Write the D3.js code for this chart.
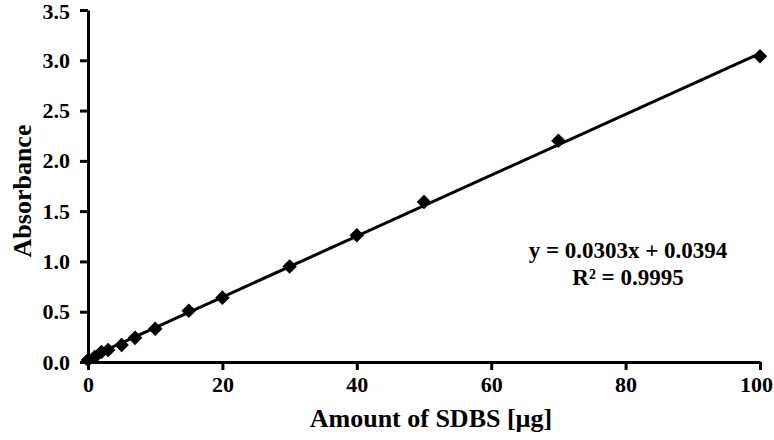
<!DOCTYPE html>
<html lang="en">
<head>
    <meta charset="UTF-8">
    <title>Absorbance vs SDBS</title>
    <style>
        body { margin: 0; background: #fff; }
        text { font-family: "Liberation Serif", "Times New Roman", serif; font-weight: bold; fill: #000; }
        .axis path, .axis line { stroke: #000; stroke-width: 3; }
        .axis text { font-size: 22px; }
    </style>
</head>
<body>
    <script src="https://d3js.org/d3.v7.min.js"></script>
    <script>
        const amounts = [0, 1, 2, 3, 5, 7, 10, 15, 20, 30, 40, 50, 70, 100];
        const absorbance = [0.02, 0.05, 0.10, 0.12, 0.17, 0.24, 0.33, 0.51, 0.64, 0.95, 1.26, 1.59, 2.20, 3.04];
        const xTicks = [0, 20, 40, 60, 80, 100];
        const yTicks = [0, 0.5, 1.0, 1.5, 2.0, 2.5, 3.0, 3.5];
        const slope = 0.0303;
        const intercept = 0.0394;

        const width = 774;
        const height = 440;
        const margin = { left: 88, right: 14, top: 10, bottom: 78 };

        const svg = d3.select("body")
            .append("svg")
            .attr("width", width)
            .attr("height", height);

        const x = d3.scaleLinear()
            .domain([0, 100])
            .range([margin.left, width - margin.right]);

        const y = d3.scaleLinear()
            .domain([0, 3.5])
            .range([height - margin.bottom, margin.top]);

        // axes
        const xAxis = svg.append("g")
            .attr("class", "axis")
            .attr("transform", `translate(0, ${y(0)})`)
            .call(d3.axisBottom(x).tickValues(xTicks).tickSize(8).tickSizeOuter(0).tickPadding(6).tickFormat(d3.format("d")));
        // last label sits against the right edge
        xAxis.selectAll(".tick text").filter(d => d === 100).attr("dx", "-4");

        const yAxis = svg.append("g")
            .attr("class", "axis")
            .attr("transform", `translate(${x(0)}, 0)`)
            .call(d3.axisLeft(y).tickValues(yTicks).tickSize(8).tickSizeOuter(0).tickPadding(10).tickFormat(d3.format(".1f")));
        yAxis.selectAll(".tick text").filter(d => d === 3.5).attr("dy", "0.4em");

        // trendline
        svg.append("line")
            .attr("x1", x(0))
            .attr("y1", y(intercept))
            .attr("x2", x(100))
            .attr("y2", y(slope * 100 + intercept))
            .attr("stroke", "#000")
            .attr("stroke-width", 3);

        // markers
        svg.selectAll("path.pt")
            .data(amounts)
            .enter()
            .append("path")
            .attr("class", "pt")
            .attr("d", d3.symbol().type(d3.symbolDiamond2).size(135))
            .attr("transform", (d, i) => `translate(${x(d)}, ${y(absorbance[i])})`)
            .attr("fill", "#000");

        // labels
        svg.append("text")
            .attr("transform", `translate(31, 191) rotate(-90)`)
            .attr("text-anchor", "middle")
            .style("font-size", "26px")
            .text("Absorbance");

        svg.append("text")
            .attr("x", 431)
            .attr("y", 427)
            .attr("text-anchor", "middle")
            .style("font-size", "26px")
            .text("Amount of SDBS [µg]");

        svg.append("text")
            .attr("x", 628)
            .attr("y", 258)
            .attr("text-anchor", "middle")
            .style("font-size", "23px")
            .text(`y = ${slope}x + ${intercept}`);

        svg.append("text")
            .attr("x", 628)
            .attr("y", 285)
            .attr("text-anchor", "middle")
            .style("font-size", "23px")
            .text("R² = 0.9995");
    </script>
</body>
</html>
